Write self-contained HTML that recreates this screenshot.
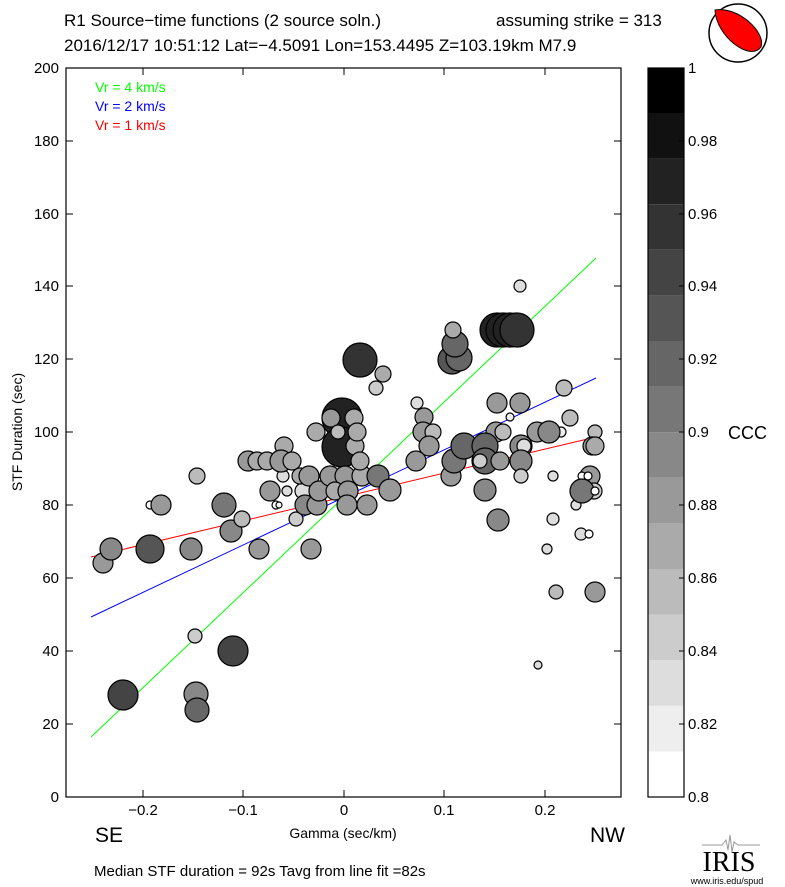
<!DOCTYPE html>
<html><head><meta charset="utf-8"><style>
body{margin:0;background:#fff;}
svg{display:block;font-family:"Liberation Sans",sans-serif;}
</style></head><body>
<svg width="785" height="887" viewBox="0 0 785 887" xmlns="http://www.w3.org/2000/svg" xml:space="preserve">
<rect width="785" height="887" fill="#fff"/>
<text x="64" y="26" font-size="17">R1 Source−time functions (2 source soln.)</text>
<text x="496" y="26" font-size="17">assuming strike = 313</text>
<text x="64" y="51" font-size="17">2016/12/17 10:51:12  Lat=−4.5091 Lon=153.4495  Z=103.19km  M7.9</text>
<circle cx="738" cy="33" r="29" fill="#fff" stroke="#000" stroke-width="1.5"/>
<path d="M715 10 C 738 6, 766 32, 761 47 C 750 62, 716 36, 715 10 Z" fill="#f00" stroke="#000"/>
<defs><clipPath id="pa"><rect x="66" y="68" width="555" height="729"/></clipPath></defs>
<g clip-path="url(#pa)">
<line x1="91" y1="737" x2="596" y2="258" stroke="#0f0" stroke-width="1"/>
<line x1="91" y1="617" x2="596" y2="378" stroke="#00f" stroke-width="1"/>
<line x1="91" y1="557" x2="596" y2="437" stroke="#f00" stroke-width="1"/>
<g stroke="#000" stroke-width="1.2">
<circle cx="123" cy="695" r="15" fill="#444"/>
<circle cx="103" cy="563" r="10" fill="#999"/>
<circle cx="111" cy="549" r="11" fill="#888"/>
<circle cx="150" cy="549" r="14" fill="#555"/>
<circle cx="191" cy="549" r="11" fill="#888"/>
<circle cx="197" cy="476" r="8" fill="#bbb"/>
<circle cx="150" cy="505" r="4" fill="#fff"/>
<circle cx="161" cy="505" r="10" fill="#999"/>
<circle cx="196" cy="694" r="12" fill="#888"/>
<circle cx="197" cy="710" r="12" fill="#666"/>
<circle cx="195" cy="636" r="7" fill="#ccc"/>
<circle cx="233" cy="651" r="15" fill="#444"/>
<circle cx="224" cy="505" r="12" fill="#777"/>
<circle cx="231" cy="531" r="11" fill="#888"/>
<circle cx="242" cy="519" r="8" fill="#bbb"/>
<circle cx="259" cy="549" r="10" fill="#999"/>
<circle cx="270" cy="491" r="10" fill="#999"/>
<circle cx="248" cy="461" r="10" fill="#999"/>
<circle cx="257" cy="461" r="9" fill="#aaa"/>
<circle cx="267" cy="461" r="9" fill="#aaa"/>
<circle cx="284" cy="446" r="9" fill="#aaa"/>
<circle cx="283" cy="476" r="6" fill="#ddd"/>
<circle cx="276" cy="505" r="4" fill="#fff"/>
<circle cx="279" cy="505" r="3" fill="#fff"/>
<circle cx="296" cy="519" r="7" fill="#ccc"/>
<circle cx="311" cy="549" r="10" fill="#999"/>
<circle cx="281" cy="461" r="11" fill="#999"/>
<circle cx="292" cy="461" r="9" fill="#aaa"/>
<circle cx="287" cy="491" r="5" fill="#ddd"/>
<circle cx="303" cy="491" r="8" fill="#ddd"/>
<circle cx="305" cy="505" r="10" fill="#888"/>
<circle cx="317" cy="505" r="10" fill="#999"/>
<circle cx="342" cy="418" r="20" fill="#222"/>
<circle cx="342" cy="447" r="20" fill="#222"/>
<circle cx="316" cy="432" r="9" fill="#aaa"/>
<circle cx="331" cy="418" r="9" fill="#999"/>
<circle cx="338" cy="432" r="7" fill="#bbb"/>
<circle cx="354" cy="418" r="9" fill="#aaa"/>
<circle cx="355" cy="446" r="9" fill="#aaa"/>
<circle cx="357" cy="432" r="9" fill="#aaa"/>
<circle cx="300" cy="476" r="8" fill="#aaa"/>
<circle cx="309" cy="476" r="10" fill="#999"/>
<circle cx="319" cy="491" r="10" fill="#999"/>
<circle cx="330" cy="476" r="10" fill="#999"/>
<circle cx="345" cy="476" r="10" fill="#999"/>
<circle cx="362" cy="476" r="10" fill="#aaa"/>
<circle cx="360" cy="461" r="9" fill="#aaa"/>
<circle cx="335" cy="491" r="9" fill="#aaa"/>
<circle cx="348" cy="491" r="10" fill="#999"/>
<circle cx="347" cy="505" r="10" fill="#999"/>
<circle cx="367" cy="505" r="10" fill="#999"/>
<circle cx="360" cy="360" r="17" fill="#333"/>
<circle cx="383" cy="374" r="8" fill="#aaa"/>
<circle cx="376" cy="388" r="7" fill="#ccc"/>
<circle cx="378" cy="476" r="11" fill="#777"/>
<circle cx="390" cy="490" r="11" fill="#999"/>
<circle cx="417" cy="403" r="6" fill="#ddd"/>
<circle cx="424" cy="417" r="9" fill="#999"/>
<circle cx="423" cy="432" r="10" fill="#999"/>
<circle cx="433" cy="432" r="8" fill="#bbb"/>
<circle cx="429" cy="446" r="10" fill="#999"/>
<circle cx="416" cy="461" r="10" fill="#999"/>
<circle cx="451" cy="476" r="10" fill="#999"/>
<circle cx="454" cy="461" r="12" fill="#777"/>
<circle cx="452" cy="360" r="14" fill="#555"/>
<circle cx="459" cy="358" r="13" fill="#666"/>
<circle cx="455" cy="344" r="13" fill="#666"/>
<circle cx="453" cy="330" r="8" fill="#aaa"/>
<circle cx="497" cy="330" r="17" fill="#222"/>
<circle cx="503" cy="330" r="17" fill="#222"/>
<circle cx="510" cy="330" r="17" fill="#222"/>
<circle cx="517" cy="330" r="17" fill="#333"/>
<circle cx="520" cy="286" r="6" fill="#ddd"/>
<circle cx="497" cy="403" r="10" fill="#999"/>
<circle cx="520" cy="403" r="10" fill="#999"/>
<circle cx="510" cy="417" r="4" fill="#eee"/>
<circle cx="496" cy="432" r="10" fill="#999"/>
<circle cx="503" cy="432" r="8" fill="#bbb"/>
<circle cx="464" cy="446" r="13" fill="#666"/>
<circle cx="485" cy="446" r="13" fill="#666"/>
<circle cx="485" cy="461" r="13" fill="#666"/>
<circle cx="480" cy="461" r="7" fill="#ccc"/>
<circle cx="500" cy="461" r="9" fill="#999"/>
<circle cx="521" cy="446" r="11" fill="#888"/>
<circle cx="524" cy="446" r="7" fill="#ddd"/>
<circle cx="521" cy="461" r="11" fill="#888"/>
<circle cx="521" cy="476" r="7" fill="#ccc"/>
<circle cx="485" cy="490" r="11" fill="#888"/>
<circle cx="498" cy="520" r="11" fill="#888"/>
<circle cx="564" cy="388" r="8" fill="#bbb"/>
<circle cx="570" cy="418" r="8" fill="#bbb"/>
<circle cx="561" cy="432" r="5" fill="#eee"/>
<circle cx="537" cy="432" r="10" fill="#999"/>
<circle cx="549" cy="432" r="11" fill="#888"/>
<circle cx="553" cy="476" r="5" fill="#ddd"/>
<circle cx="553" cy="519" r="6" fill="#ddd"/>
<circle cx="547" cy="549" r="5" fill="#ddd"/>
<circle cx="581" cy="534" r="6" fill="#ddd"/>
<circle cx="589" cy="534" r="4" fill="#fff"/>
<circle cx="576" cy="505" r="5" fill="#ddd"/>
<circle cx="590" cy="476" r="10" fill="#999"/>
<circle cx="582" cy="476" r="4" fill="#fff"/>
<circle cx="588" cy="476" r="4" fill="#fff"/>
<circle cx="594" cy="491" r="8" fill="#ccc"/>
<circle cx="582" cy="491" r="12" fill="#777"/>
<circle cx="595" cy="491" r="4" fill="#fff"/>
<circle cx="595" cy="432" r="7" fill="#bbb"/>
<circle cx="592" cy="446" r="9" fill="#999"/>
<circle cx="595" cy="446" r="9" fill="#aaa"/>
<circle cx="556" cy="592" r="7" fill="#bbb"/>
<circle cx="595" cy="592" r="10" fill="#999"/>
<circle cx="538" cy="665" r="4" fill="#ddd"/>
</g>
</g>
<rect x="66" y="68" width="555" height="729" fill="none" stroke="#000" stroke-width="1.2"/>
<g stroke="#000" stroke-width="1">
<line x1="66" y1="724" x2="73" y2="724"/><line x1="66" y1="651" x2="73" y2="651"/><line x1="66" y1="578" x2="73" y2="578"/><line x1="66" y1="505" x2="73" y2="505"/><line x1="66" y1="432" x2="73" y2="432"/><line x1="66" y1="359" x2="73" y2="359"/><line x1="66" y1="286" x2="73" y2="286"/><line x1="66" y1="214" x2="73" y2="214"/><line x1="66" y1="141" x2="73" y2="141"/>
<line x1="614" y1="724" x2="621" y2="724"/><line x1="614" y1="651" x2="621" y2="651"/><line x1="614" y1="578" x2="621" y2="578"/><line x1="614" y1="505" x2="621" y2="505"/><line x1="614" y1="432" x2="621" y2="432"/><line x1="614" y1="359" x2="621" y2="359"/><line x1="614" y1="286" x2="621" y2="286"/><line x1="614" y1="214" x2="621" y2="214"/><line x1="614" y1="141" x2="621" y2="141"/>
<line x1="143" y1="797" x2="143" y2="790"/><line x1="243" y1="797" x2="243" y2="790"/><line x1="344" y1="797" x2="344" y2="790"/><line x1="444" y1="797" x2="444" y2="790"/><line x1="545" y1="797" x2="545" y2="790"/>
<line x1="143" y1="68" x2="143" y2="75"/><line x1="243" y1="68" x2="243" y2="75"/><line x1="344" y1="68" x2="344" y2="75"/><line x1="444" y1="68" x2="444" y2="75"/><line x1="545" y1="68" x2="545" y2="75"/>
</g>
<g font-size="15" text-anchor="end">
<text x="59" y="802">0</text><text x="59" y="729">20</text><text x="59" y="656">40</text><text x="59" y="583">60</text><text x="59" y="510">80</text><text x="59" y="437">100</text><text x="59" y="364">120</text><text x="59" y="291">140</text><text x="59" y="219">160</text><text x="59" y="146">180</text><text x="59" y="73">200</text>
</g>
<g font-size="15" text-anchor="middle">
<text x="143" y="815">−0.2</text><text x="243" y="815">−0.1</text><text x="344" y="815">0</text><text x="444" y="815">0.1</text><text x="545" y="815">0.2</text>
</g>
<text x="343" y="838" font-size="14" text-anchor="middle">Gamma (sec/km)</text>
<text x="22" y="432" font-size="14" text-anchor="middle" transform="rotate(-90 22 432)">STF Duration (sec)</text>
<text x="95" y="842" font-size="21">SE</text>
<text x="590" y="842" font-size="21">NW</text>
<text x="95" y="92" font-size="14" fill="#0f0">Vr = 4 km/s</text>
<text x="95" y="111" font-size="14" fill="#00f">Vr = 2 km/s</text>
<text x="95" y="130" font-size="14" fill="#f00">Vr = 1 km/s</text>
<text x="94" y="876" font-size="15">Median STF duration = 92s    Tavg from line fit =82s</text>
<g stroke="none">
<rect x="648" y="751.4" width="36" height="45.6" fill="#fff"/>
<rect x="648" y="705.8" width="36" height="45.6" fill="#eee"/>
<rect x="648" y="660.2" width="36" height="45.6" fill="#ddd"/>
<rect x="648" y="614.6" width="36" height="45.6" fill="#ccc"/>
<rect x="648" y="569" width="36" height="45.6" fill="#bbb"/>
<rect x="648" y="523.4" width="36" height="45.6" fill="#aaa"/>
<rect x="648" y="477.8" width="36" height="45.6" fill="#999"/>
<rect x="648" y="432.2" width="36" height="45.6" fill="#888"/>
<rect x="648" y="386.6" width="36" height="45.6" fill="#777"/>
<rect x="648" y="341" width="36" height="45.6" fill="#666"/>
<rect x="648" y="295.4" width="36" height="45.6" fill="#555"/>
<rect x="648" y="249.8" width="36" height="45.6" fill="#444"/>
<rect x="648" y="204.2" width="36" height="45.6" fill="#333"/>
<rect x="648" y="158.6" width="36" height="45.6" fill="#222"/>
<rect x="648" y="113" width="36" height="45.6" fill="#111"/>
<rect x="648" y="68" width="36" height="45" fill="#000"/>
</g>
<rect x="648" y="68" width="36" height="729" fill="none" stroke="#000" stroke-width="1.2"/>
<g stroke="#000"><line x1="679" y1="724" x2="684" y2="724"/><line x1="679" y1="651" x2="684" y2="651"/><line x1="679" y1="578" x2="684" y2="578"/><line x1="679" y1="505" x2="684" y2="505"/><line x1="679" y1="432" x2="684" y2="432"/><line x1="679" y1="359" x2="684" y2="359"/><line x1="679" y1="286" x2="684" y2="286"/><line x1="679" y1="214" x2="684" y2="214"/><line x1="679" y1="141" x2="684" y2="141"/></g>
<g font-size="15">
<text x="688" y="802">0.8</text><text x="688" y="729">0.82</text><text x="688" y="656">0.84</text><text x="688" y="583">0.86</text><text x="688" y="510">0.88</text><text x="688" y="437">0.9</text><text x="688" y="364">0.92</text><text x="688" y="291">0.94</text><text x="688" y="219">0.96</text><text x="688" y="146">0.98</text><text x="688" y="73">1</text>
</g>
<text x="728" y="439" font-size="18">CCC</text>
<path d="M702 845 L722 845 L726 840 L728 850 L730 835 L732 852 L734 842 L738 845 L760 845" fill="none" stroke="#999" stroke-width="1"/>
<text x="729" y="871" font-size="28" font-family="Liberation Serif,serif" text-anchor="middle">IRIS</text>
<text x="727" y="884" font-size="9" text-anchor="middle">www.iris.edu/spud</text>
</svg>
</body></html>
